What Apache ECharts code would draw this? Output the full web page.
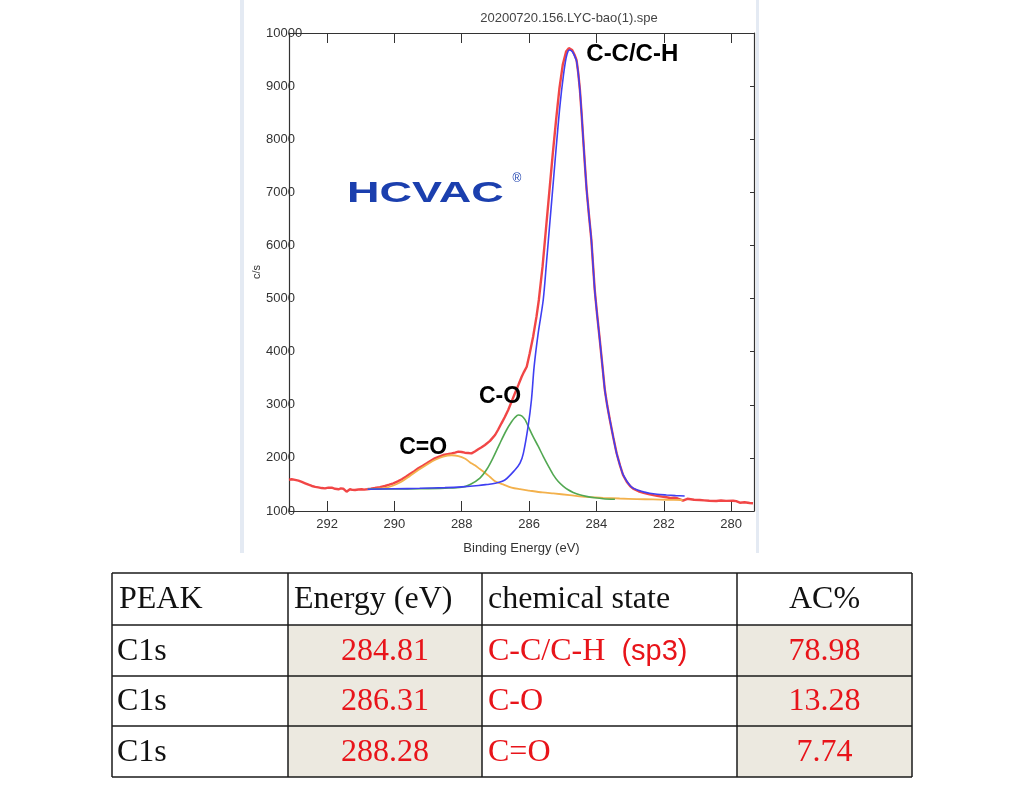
<!DOCTYPE html>
<html>
<head>
<meta charset="utf-8">
<script src="https://cdn.jsdelivr.net/npm/echarts@6/dist/echarts.min.js"></script>
<style>
html,body{margin:0;padding:0;background:#fff;}
#chart{width:1024px;height:799px;}
</style>
</head>
<body>
<div id="chart"></div>
<script>
// ---------------- DATA ----------------
const chartTitle = '20200720.156.LYC-bao(1).spe';
const xTicks = [280, 282, 284, 286, 288, 290, 292];
const yTickStep = 1000;
const yRange = [1000, 10000];
const xRange = [279.32, 293.13];

// measured spectrum (binding energy eV, counts/s)
const rawSpectrum = [
  [293.13,1589],[293.05,1597],[292.95,1585],[292.85,1571],[292.75,1548],[292.65,1522],[292.55,1495],
  [292.45,1471],[292.35,1455],[292.26,1446],[292.16,1432],[292.06,1427],[291.96,1441],[291.86,1439],
  [291.76,1418],[291.66,1409],[291.59,1425],[291.52,1420],[291.47,1395],[291.42,1363],[291.37,1390],
  [291.32,1409],[291.25,1398],[291.17,1395],[291.07,1405],[290.97,1409],[290.90,1402],[290.82,1409],
  [290.70,1420],[290.58,1433],[290.43,1450],[290.28,1471],[290.15,1495],[290.03,1522],[289.90,1558],
  [289.78,1597],[289.66,1645],[289.54,1697],[289.41,1750],[289.29,1804],[289.16,1852],[289.04,1898],
  [288.92,1945],[288.80,1992],[288.67,2025],[288.55,2054],[288.42,2072],[288.30,2086],[288.20,2100],
  [288.10,2117],[288.00,2110],[287.91,2098],[287.81,2092],[287.71,2086],[287.61,2120],[287.51,2162],
  [287.41,2200],[287.31,2243],[287.16,2320],[287.01,2431],[286.92,2530],[286.82,2651],[286.72,2770],
  [286.62,2902],[286.52,3060],[286.42,3216],[286.32,3370],[286.22,3529],[286.15,3620],[286.07,3717],
  [285.98,3970],[285.88,4282],[285.78,4659],[285.71,4973],[285.60,5600],[285.50,6300],[285.40,7000],
  [285.30,7700],[285.20,8350],[285.10,8950],[285.00,9400],[284.90,9650],[284.82,9715],[284.72,9680],
  [284.65,9590],[284.59,9490],[284.54,9250],[284.49,8927],[284.44,8480],[284.39,7986],[284.34,7500],
  [284.29,7044],[284.22,6560],[284.15,6103],[284.10,5630],[284.05,5161],[283.98,4700],[283.90,4220],
  [283.82,3720],[283.75,3278],[283.68,2990],[283.60,2714],[283.50,2390],[283.40,2087],[283.30,1860],
  [283.21,1678],[283.10,1550],[283.00,1470],[282.91,1420],[282.75,1372],[282.60,1342],[282.42,1312],
  [282.20,1285],[281.92,1258],[281.80,1245],[281.70,1252],[281.60,1240],[281.50,1215],[281.43,1194],
  [281.38,1215],[281.30,1230],[281.20,1222],[281.10,1212],[280.93,1207],[280.80,1200],[280.65,1192],
  [280.44,1188],[280.30,1198],[280.15,1190],[279.94,1194],[279.85,1185],[279.74,1156],[279.60,1165],
  [279.45,1150],[279.35,1145]
];

// fitted component C-C/C-H
const fitCC = [
  [290.80,1410],[290.00,1418],[289.25,1427],[288.50,1440],[288.00,1455],[287.50,1480],[287.25,1500],
  [287.01,1522],[286.72,1584],[286.42,1772],[286.27,1900],[286.17,2086],[286.03,2587],[285.93,3090],
  [285.85,3717],[285.73,4346],[285.58,4973],[285.48,5700],[285.38,6450],[285.28,7200],[285.18,7950],
  [285.08,8650],[284.98,9200],[284.90,9530],[284.84,9660],[284.80,9680],[284.72,9650],[284.65,9570],
  [284.59,9470],[284.54,9240],[284.49,8920],[284.44,8480],[284.39,7986],[284.34,7500],[284.29,7044],
  [284.22,6560],[284.15,6103],[284.10,5630],[284.05,5161],[283.98,4700],[283.90,4220],[283.82,3720],
  [283.75,3278],[283.68,2990],[283.60,2714],[283.50,2390],[283.40,2087],[283.30,1860],[283.21,1690],
  [283.10,1565],[283.00,1480],[282.91,1430],[282.75,1390],[282.60,1360],[282.42,1335],[282.20,1315],
  [281.92,1301],[281.65,1290],[281.38,1282]
];

// fitted component C-O
const fitCO = [
  [290.78,1412],[290.00,1415],[289.20,1420],[288.50,1430],[288.00,1446],[287.75,1500],[287.46,1620],
  [287.25,1790],[287.07,2000],[286.87,2270],[286.67,2525],[286.52,2680],[286.42,2760],[286.32,2808],
  [286.22,2790],[286.12,2720],[286.03,2600],[285.88,2400],[285.73,2220],[285.58,2030],[285.43,1850],
  [285.28,1680],[285.14,1560],[284.99,1470],[284.84,1400],[284.69,1350],[284.50,1305],[284.30,1275],
  [284.05,1250],[283.80,1232],[283.45,1222]
];

// fitted component C=O
const fitCdO = [
  [290.80,1410],[290.55,1418],[290.28,1432],[290.03,1480],[289.78,1555],[289.54,1660],[289.29,1772],
  [289.04,1870],[288.80,1960],[288.55,2025],[288.30,2050],[288.10,2035],[287.91,1990],[287.76,1920],
  [287.61,1860],[287.46,1790],[287.31,1720],[287.16,1640],[287.01,1560],[286.77,1500],[286.52,1440],
  [286.27,1410],[286.00,1385],[285.60,1350],[285.28,1330],[284.80,1300],[284.29,1265],[283.80,1248],
  [283.31,1235],[282.80,1225],[282.32,1218],[281.90,1212],[281.44,1207]
];

// peak annotations [label, energy, counts, font size]
const peakLabels = [
  ['C-C/C-H', 282.92, 9590, 24],
  ['C-O', 286.85, 3150, 23],
  ['C=O', 289.13, 2180, 23]
];

// table
const tableHeader = ['PEAK', 'Energy (eV)', 'chemical state', 'AC%'];
const peakNames = ['C1s', 'C1s', 'C1s'];
const peakEnergies = ['284.81', '286.31', '288.28'];
const chemStates = [['C-C/C-H', '(sp3)'], ['C-O', ''], ['C=O', '']];
const acPercent = ['78.98', '13.28', '7.74'];

// ---------------- CHART ----------------
const chart = echarts.init(document.getElementById('chart'), null, {renderer: 'canvas'});

const gridBox = {left: 289, top: 33, width: 465, height: 478};
const axisColor = '#333';

const rowBounds = [573, 625, 676, 726, 777];
const colBounds = [112, 288, 482, 737, 912];
const serif = "'Liberation Serif', 'DejaVu Serif', serif";
const sans = "'Liberation Sans', Arial, sans-serif";

function buildTable() {
  const els = [];
  for (let r = 1; r <= 3; r++) {
    [1, 3].forEach(c => {
      els.push({type: 'rect', shape: {x: colBounds[c], y: rowBounds[r], width: colBounds[c+1]-colBounds[c], height: rowBounds[r+1]-rowBounds[r]},
        style: {fill: '#ece9e0'}, silent: true});
    });
  }
  rowBounds.forEach(y => els.push({type: 'line', shape: {x1: colBounds[0], y1: y, x2: colBounds[4], y2: y}, style: {stroke: '#1a1a1a', lineWidth: 1.5}}));
  colBounds.forEach(x => els.push({type: 'line', shape: {x1: x, y1: rowBounds[0], x2: x, y2: rowBounds[4]}, style: {stroke: '#1a1a1a', lineWidth: 1.5}}));
  const fs = 32;
  const mid = r => (rowBounds[r] + rowBounds[r+1]) / 2 + 1;
  const hdrPos = [[colBounds[0]+7, 'left'], [colBounds[1]+6, 'left'], [colBounds[2]+6, 'left'], [(colBounds[3]+colBounds[4])/2, 'center']];
  tableHeader.forEach((t, i) => {
    els.push({type: 'text', x: hdrPos[i][0], y: mid(0), style: {text: t, font: fs + 'px ' + serif, fill: '#111', align: hdrPos[i][1], verticalAlign: 'middle'}});
  });
  for (let r = 0; r < 3; r++) {
    const y = mid(r + 1);
    els.push({type: 'text', x: colBounds[0]+5, y: y, style: {text: peakNames[r], font: fs + 'px ' + serif, fill: '#111', align: 'left', verticalAlign: 'middle'}});
    els.push({type: 'text', x: (colBounds[1]+colBounds[2])/2, y: y, style: {text: peakEnergies[r], font: fs + 'px ' + serif, fill: '#e8141a', align: 'center', verticalAlign: 'middle'}});
    const st = chemStates[r];
    els.push({type: 'text', x: colBounds[2]+6, y: y, style: {
      text: st[1] ? '{a|' + st[0] + '}{b|  ' + st[1] + '}' : '{a|' + st[0] + '}',
      rich: {a: {font: fs + 'px ' + serif, fill: '#e8141a'}, b: {font: "29px 'Liberation Sans', Arial, sans-serif", fill: '#e8141a'}},
      align: 'left', verticalAlign: 'middle'}});
    els.push({type: 'text', x: (colBounds[3]+colBounds[4])/2, y: y, style: {text: acPercent[r], font: fs + 'px ' + serif, fill: '#e8141a', align: 'center', verticalAlign: 'middle'}});
  }
  return els;
}

const graphicEls = [
  {type: 'rect', shape: {x: 240, y: 0, width: 4, height: 553}, style: {fill: '#e4eaf3'}, silent: true},
  {type: 'rect', shape: {x: 756, y: 0, width: 3, height: 553}, style: {fill: '#e4eaf3'}, silent: true},
  {type: 'text', x: 347, y: 194, scaleX: 1.5, style: {text: 'HCVAC', font: "900 30px " + sans, fill: '#1b3fae', align: 'left', verticalAlign: 'middle'}},
  {type: 'text', x: 517, y: 179, style: {text: '®', font: "12px " + sans, fill: '#1b3fae', align: 'center', verticalAlign: 'middle'}}
].concat(buildTable());

const lineSeries = (name, data, color, width, z, smooth) => ({
  name, type: 'line', data, showSymbol: false, symbol: 'none', smooth: smooth,
  lineStyle: {color, width}, itemStyle: {color}, z, animation: false,
  xAxisIndex: 0, yAxisIndex: 0
});

const option = {
  animation: false,
  backgroundColor: '#ffffff',
  title: {
    text: chartTitle, left: 564, top: 7, textAlign: 'center',
    textStyle: {fontFamily: sans, fontSize: 13, fontWeight: 'normal', color: '#444'}
  },
  grid: {left: gridBox.left, top: gridBox.top, width: gridBox.width, height: gridBox.height, containLabel: false},
  xAxis: [
    {
      type: 'value', inverse: true, min: xRange[0], max: xRange[1], position: 'bottom',
      name: 'Binding Energy (eV)', nameLocation: 'middle', nameGap: 31,
      nameTextStyle: {fontFamily: sans, fontSize: 13, color: '#333'},
      axisLine: {show: true, onZero: false, lineStyle: {color: axisColor, width: 1.2}},
      axisTick: {show: true, inside: true, length: 10, customValues: xTicks, lineStyle: {color: axisColor}},
      axisLabel: {show: true, customValues: xTicks, margin: 7, fontFamily: sans, fontSize: 13, color: '#333'},
      splitLine: {show: false}
    },
    {
      type: 'value', inverse: true, min: xRange[0], max: xRange[1], position: 'top',
      axisLine: {show: true, onZero: false, lineStyle: {color: axisColor, width: 1.2}},
      axisTick: {show: true, inside: true, length: 10, customValues: xTicks, lineStyle: {color: axisColor}},
      axisLabel: {show: false},
      splitLine: {show: false}
    }
  ],
  yAxis: [
    {
      type: 'value', min: yRange[0], max: yRange[1], interval: yTickStep, position: 'left',
      name: 'c/s', nameLocation: 'middle', nameGap: 26, nameRotate: 90,
      nameTextStyle: {fontFamily: sans, fontSize: 11, color: '#333'},
      axisLine: {show: true, onZero: false, lineStyle: {color: axisColor, width: 1.2}},
      axisTick: {show: false},
      axisLabel: {show: true, align: 'left', margin: 23, fontFamily: sans, fontSize: 13, color: '#333', formatter: v => String(v)},
      splitLine: {show: false}
    },
    {
      type: 'value', min: yRange[0], max: yRange[1], interval: yTickStep, position: 'right',
      axisLine: {show: true, onZero: false, lineStyle: {color: axisColor, width: 1.2}},
      axisTick: {show: true, inside: true, length: 4, lineStyle: {color: axisColor}},
      axisLabel: {show: false},
      splitLine: {show: false}
    }
  ],
  series: [
    lineSeries('raw', rawSpectrum, 'rgba(240,50,50,0.9)', 2.4, 2, false),
    lineSeries('C=O', fitCdO, '#f3b14c', 1.8, 3, 0.3),
    lineSeries('C-O', fitCO, '#52a852', 1.6, 4, 0.3),
    lineSeries('C-C/C-H', fitCC, '#3f3ff2', 1.6, 5, 0.3),
    {
      name: 'labels', type: 'scatter', symbol: 'circle', symbolSize: 1, z: 10,
      data: peakLabels.map(p => ({value: [p[1], p[2]], name: p[0], label: {fontSize: p[3]}})),
      label: {show: true, position: [0, 0], align: 'center', verticalAlign: 'middle', opacity: 1,
        formatter: p => p.name, fontFamily: sans, fontWeight: 'bold', fontSize: 23, color: '#000',
        textBorderWidth: 0},
      itemStyle: {color: 'rgba(0,0,0,0)', opacity: 1}, silent: true
    }
  ],
  graphic: {elements: graphicEls}
};

chart.setOption(option);
</script>
</body>
</html>
